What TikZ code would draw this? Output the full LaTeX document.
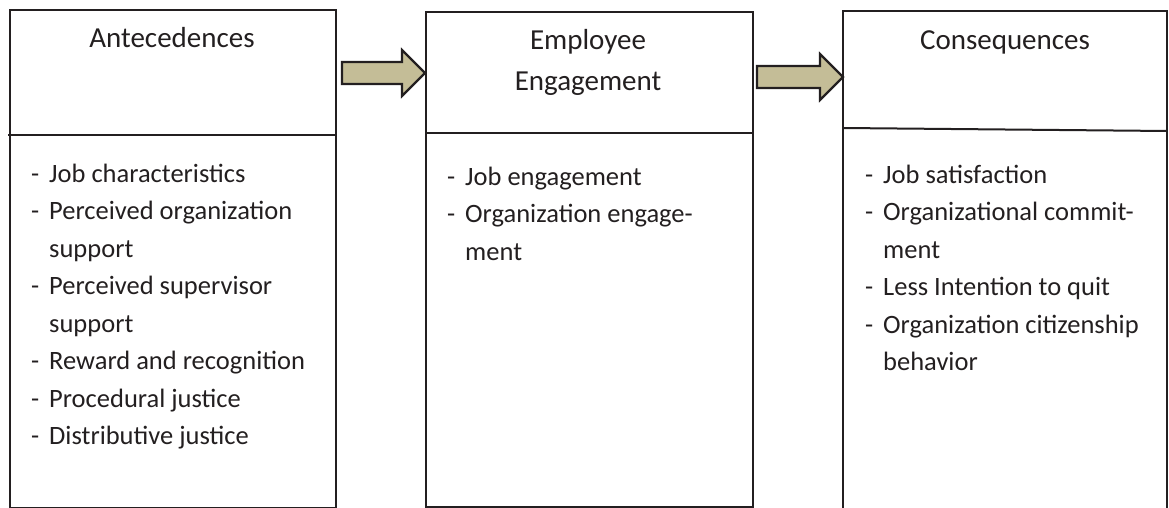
\documentclass[tikz,border=0pt]{standalone}
\usepackage{fontspec}
\setmainfont{Carlito}
\usetikzlibrary{calc}
\definecolor{ink}{HTML}{231F20}
\definecolor{tanfill}{HTML}{C4BD97}
\tikzset{
  boxline/.style={draw=ink, line width=2pt},
  boxnode/.style={boxline, rectangle, inner sep=0pt, anchor=north west},
  barrow/.style={draw=ink, fill=tanfill, line width=2.2pt, line join=miter},
  titletext/.style={text=ink, inner sep=0pt, anchor=base, font=\fontsize{29}{41}\selectfont},
  listtext/.style={text=ink, inner sep=0pt, anchor=base west, font=\fontsize{26.5}{37.5}\selectfont},
}
\newcommand\blkarrow[2]{\draw[barrow] let \p1=(#1), \p2=(#2) in
  (\x1,\y1+11pt) -- (\x2-23pt,\y1+11pt) -- (\x2-23pt,\y1+23pt) -- (\x2,\y2)
  -- (\x2-23pt,\y1-23pt) -- (\x2-23pt,\y1-11pt) -- (\x1,\y1-11pt) -- cycle;}
\newcommand\itm{\makebox[18pt][l]{-}}
\newcommand\cnt{\hspace*{18pt}}
\begin{document}
\begin{tikzpicture}[x=1pt,y=-1pt]
\useasboundingbox (0,0) rectangle (1169,508);
% boxes
\node[boxnode, minimum width=326pt, minimum height=498pt] (b1) at (9,9) {};
\node[boxnode, minimum width=327pt, minimum height=495pt] (b2) at (425,11) {};
\node[inner sep=0pt, anchor=north west, minimum width=324pt, minimum height=500pt] (b3) at (843,11) {};
\draw[boxline] (b3.south west) -- (b3.north west) -- (b3.north east) -- (b3.south east);
% dividers
\draw[boxline] ([xshift=-1pt]b1.west |- 0,135) -- (b1.east |- 0,135);
\draw[boxline] (b2.west |- 0,133) -- (b2.east |- 0,133);
\draw[boxline] (b3.west |- 0,128) -- (b3.east |- 0,131);
% titles
\node[titletext] (t1) at (172,48) {Antecedences};
\node[titletext] (t2) at (588,50) {\begin{tabular}[t]{@{}c@{}}Employee\\Engagement\end{tabular}};
\node[titletext] (t3) at (1005,50) {Consequences};
% lists
\node[listtext] (l1) at (31,182) {\begin{tabular}[t]{@{}l@{}}
\itm Job characteristics\\
\itm Perceived organization\\
\cnt support\\
\itm Perceived supervisor\\
\cnt support\\
\itm Reward and recognition\\
\itm Procedural justice\\
\itm Distributive justice\end{tabular}};
\node[listtext] (l2) at (447,185) {\begin{tabular}[t]{@{}l@{}}
\itm Job engagement\\
\itm Organization engage-\\
\cnt ment\end{tabular}};
\node[listtext] (l3) at (865,183) {\begin{tabular}[t]{@{}l@{}}
\itm Job satisfaction\\
\itm Organizational commit-\\
\cnt ment\\
\itm Less Intention to quit\\
\itm Organization citizenship\\
\cnt behavior\end{tabular}};
% arrows
\coordinate (a1s) at (342,73);
\coordinate (a1t) at (b2.west |- a1s);
\coordinate (a2s) at (757,77);
\coordinate (a2t) at (b3.west |- a2s);
\blkarrow{a1s}{a1t}
\blkarrow{a2s}{a2t}
\end{tikzpicture}
\end{document}
